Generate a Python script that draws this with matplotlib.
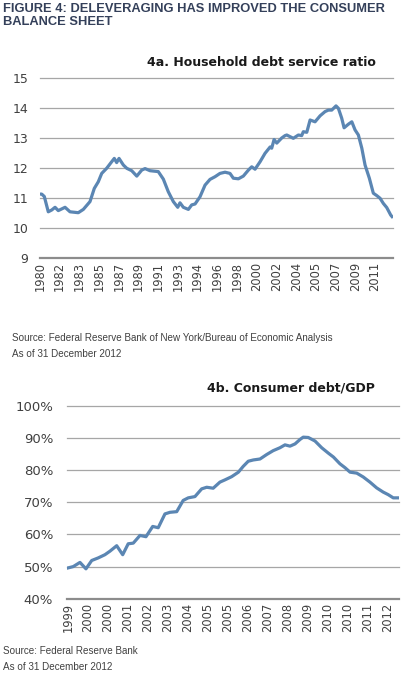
import matplotlib
matplotlib.use("Agg")
import matplotlib.pyplot as plt

# 4a: household debt service ratio (fractional years)
DSR_YEAR = [1980.17, 1980.33, 1980.57, 1980.94, 1981.26, 1981.57, 1981.87, 1982.50,
            1982.96, 1983.73, 1984.20, 1984.82, 1985.22, 1985.59, 1985.91, 1986.37,
            1986.84, 1987.08, 1987.30, 1987.52, 1987.92, 1988.24, 1988.70, 1989.17,
            1989.63, 1989.94, 1990.40, 1991.17, 1991.64, 1992.10, 1992.57, 1992.98,
            1993.19, 1993.50, 1993.97, 1994.28, 1994.59, 1995.05, 1995.52, 1995.98,
            1996.45, 1996.91, 1997.38, 1997.84, 1998.15, 1998.62, 1999.08, 1999.55,
            1999.86, 2000.17, 2000.64, 2001.10, 2001.57, 2001.72, 2001.94, 2002.19,
            2002.65, 2002.96, 2003.12, 2003.73, 2004.20, 2004.51, 2004.66, 2004.98,
            2005.29, 2005.75, 2006.22, 2006.68, 2006.99, 2007.30, 2007.70, 2007.92,
            2008.23, 2008.45, 2008.85, 2009.17, 2009.47, 2009.78, 2010.10, 2010.40,
            2010.80, 2011.17, 2011.49, 2011.80, 2012.10, 2012.42, 2012.79, 2012.91]
DSR_VALUE = [11.13, 11.13, 11.05, 10.54, 10.60, 10.69, 10.58, 10.69,
             10.54, 10.51, 10.62, 10.88, 11.32, 11.54, 11.82, 11.99,
             12.21, 12.32, 12.18, 12.32, 12.10, 11.99, 11.91, 11.73,
             11.93, 11.98, 11.91, 11.88, 11.63, 11.21, 10.88, 10.69,
             10.84, 10.69, 10.62, 10.77, 10.80, 11.04, 11.43, 11.62,
             11.71, 11.82, 11.86, 11.82, 11.66, 11.64, 11.73, 11.93,
             12.04, 11.96, 12.21, 12.49, 12.70, 12.66, 12.95, 12.83,
             13.00, 13.08, 13.10, 12.99, 13.10, 13.08, 13.21, 13.19,
             13.60, 13.54, 13.74, 13.88, 13.93, 13.93, 14.07, 13.99,
             13.66, 13.34, 13.46, 13.54, 13.27, 13.10, 12.66, 12.10,
             11.66, 11.16, 11.08, 10.99, 10.82, 10.68, 10.43, 10.38]
DSR_TICKLABELS = ["1980", "1982", "1983", "1985", "1987", "1989", "1991", "1993", "1994",
                  "1996", "1998", "2000", "2002", "2004", "2005", "2007", "2009", "2011"]

# 4b: consumer debt / GDP, %
CDG_YEAR = [1999.18, 1999.39, 1999.67, 1999.92, 2000.16, 2000.43, 2000.71, 2000.92,
            2001.20, 2001.45, 2001.68, 2001.89, 2002.17, 2002.42, 2002.70, 2002.93,
            2003.21, 2003.42, 2003.70, 2003.97, 2004.18, 2004.46, 2004.74, 2004.95,
            2005.22, 2005.50, 2005.71, 2005.99, 2006.27, 2006.47, 2006.68, 2006.89,
            2007.17, 2007.45, 2007.72, 2008.00, 2008.21, 2008.42, 2008.63, 2008.84,
            2008.97, 2009.18, 2009.46, 2009.74, 2010.02, 2010.23, 2010.50, 2010.71,
            2010.92, 2011.20, 2011.47, 2011.75, 2012.03, 2012.30, 2012.51, 2012.72,
            2012.93]
CDG_VALUE = [49.6, 50.0, 51.3, 49.3, 51.9, 52.7, 53.7, 54.8,
             56.5, 53.7, 57.1, 57.3, 59.7, 59.3, 62.5, 62.1,
             66.4, 66.9, 67.1, 70.6, 71.4, 71.8, 74.2, 74.7,
             74.4, 76.3, 77.0, 78.0, 79.4, 81.2, 82.8, 83.2,
             83.5, 84.9, 86.1, 87.0, 87.9, 87.5, 88.2, 89.6,
             90.3, 90.2, 89.1, 87.0, 85.3, 84.1, 82.0, 80.8,
             79.4, 79.1, 77.9, 76.3, 74.5, 73.2, 72.4, 71.4,
             71.4]
CDG_TICKLABELS = ["1999", "2000", "2000", "2001", "2002", "2003", "2004", "2005", "2005",
                  "2006", "2007", "2008", "2009", "2010", "2010", "2011", "2012"]

LINE = "#5b86b3"
GRID = "#a6a6a6"
BASE = "#8c8c8c"
TICK = "#404040"
NAVY = "#34405a"
NARROW = ["Liberation Sans", "DejaVu Sans"]

W, H = 404, 678


def fx(px):
    return px / W


def fy(py):
    return 1 - py / H


def style_axes(ax, yticks, ylabels, fontsize, ypad):
    ax.set_yticks(yticks)
    ax.set_yticklabels(ylabels)
    for v in yticks[1:]:
        ax.axhline(v, color=GRID, lw=0.9, zorder=1, clip_on=False)
    for s in ("top", "right", "left"):
        ax.spines[s].set_visible(False)
    ax.spines["bottom"].set_color(BASE)
    ax.spines["bottom"].set_linewidth(1.6)
    ax.tick_params(length=0, colors=TICK)
    ax.tick_params(axis="y", labelsize=fontsize, pad=ypad)
    ax.tick_params(axis="x", labelsize=8.3, labelrotation=90, pad=3)


fig = plt.figure(figsize=(W / 100, H / 100), dpi=100)

# ---- 4a
ax1 = fig.add_axes([fx(40), fy(258), fx(353), 180 / H])
ax1.plot(DSR_YEAR, DSR_VALUE, color=LINE, lw=2.3, zorder=3, solid_joinstyle="round")
ax1.set_xlim(1980.17, 2013.0)
ax1.set_ylim(9, 15)
# Excel-style category axis: a label every 22 months from Mar 1980
ax1.set_xticks([1980.17 + k * 22 / 12 for k in range(len(DSR_TICKLABELS))])
ax1.set_xticklabels(DSR_TICKLABELS)
style_axes(ax1, list(range(9, 16)), [str(v) for v in range(9, 16)], 9, 8.5)

# ---- 4b
ax2 = fig.add_axes([fx(67), fy(598.7), fx(332), 192.7 / H])
ax2.plot(CDG_YEAR, CDG_VALUE, color=LINE, lw=2.3, zorder=3, solid_joinstyle="round")
ax2.set_xlim(1999.13, 2012.96)
ax2.set_ylim(40, 100)
# a label every 10 months from Mar 1999
ax2.set_xticks([1999.17 + k * 10 / 12 for k in range(len(CDG_TICKLABELS))])
ax2.set_xticklabels(CDG_TICKLABELS)
style_axes(ax2, list(range(40, 101, 10)), [f"{v}%" for v in range(40, 101, 10)], 9.5, 10)

# ---- texts
fig.text(fx(3), fy(3), "FIGURE 4: DELEVERAGING HAS IMPROVED THE CONSUMER\nBALANCE SHEET",
         ha="left", va="top", fontsize=9.3, weight="bold", color=NAVY,
         family=NARROW, linespacing=1.15)
fig.text(fx(376), fy(63), "4a. Household debt service ratio", ha="right", va="center",
         fontsize=9, weight="bold", color="#1a1a1a")
fig.text(fx(375), fy(388), "4b. Consumer debt/GDP", ha="right", va="center",
         fontsize=9, weight="bold", color="#1a1a1a")
fig.text(fx(12), fy(338), "Source: Federal Reserve Bank of New York/Bureau of Economic Analysis",
         ha="left", va="center", fontsize=7.1, color=TICK, family=NARROW)
fig.text(fx(12), fy(353.5), "As of 31 December 2012",
         ha="left", va="center", fontsize=7.1, color=TICK, family=NARROW)
fig.text(fx(3), fy(651), "Source: Federal Reserve Bank",
         ha="left", va="center", fontsize=7.1, color=TICK, family=NARROW)
fig.text(fx(3), fy(667), "As of 31 December 2012",
         ha="left", va="center", fontsize=7.1, color=TICK, family=NARROW)

fig.savefig("out.png", dpi=100)
